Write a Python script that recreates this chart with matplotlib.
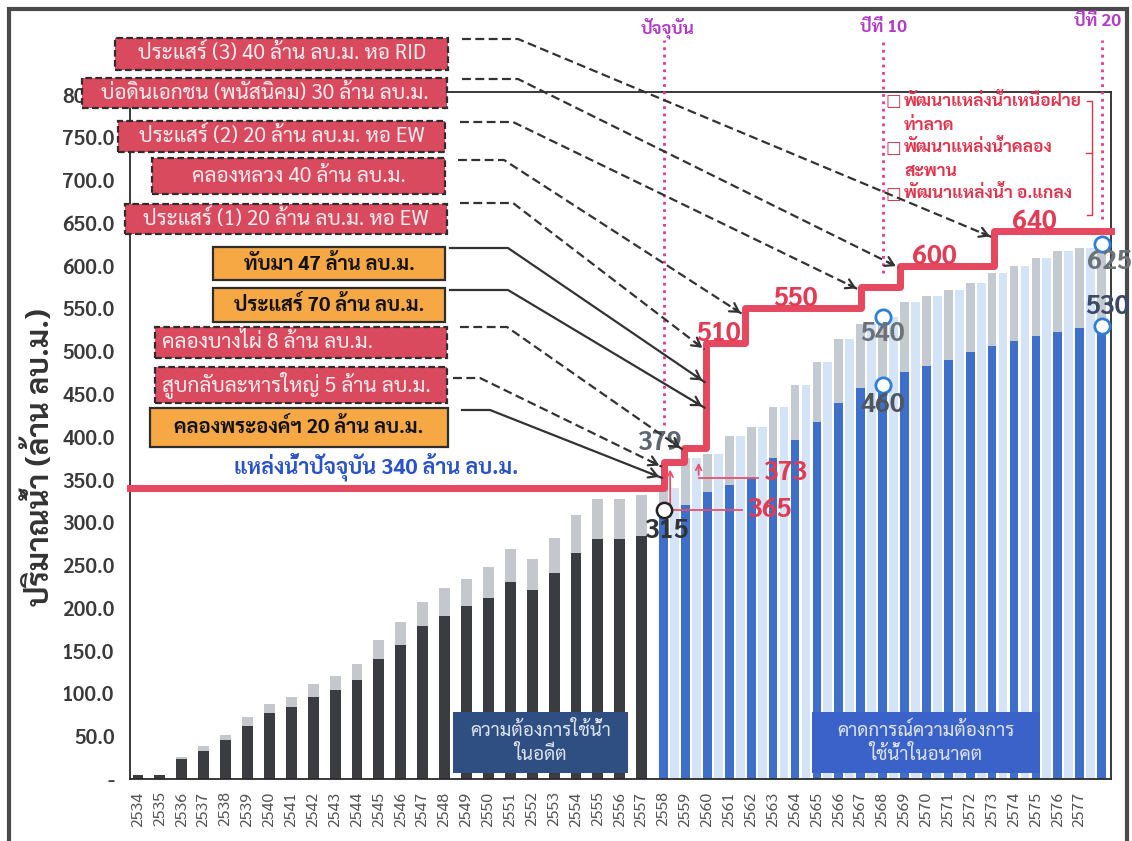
import matplotlib
matplotlib.use("Agg")
import matplotlib.pyplot as plt
from matplotlib import font_manager
from matplotlib.patches import Rectangle, FancyArrowPatch
from matplotlib.lines import Line2D
import numpy as np


# pick a Thai family that also ships a real bold face
def thai_family():
    prefs = ['Sarabun', 'Noto Sans Thai', 'IBM Plex Sans Thai', 'Bai Jamjuree']
    for p in prefs:
        ws = [f.weight for f in font_manager.fontManager.ttflist if f.name == p]
        ws = [w for w in ws if isinstance(w, int)]
        if ws and max(ws) >= 700:
            return p
    return 'Noto Sans Thai'


THAI = thai_family()
plt.rcParams['font.family'] = [THAI, 'DejaVu Sans']

# ---------------- data ----------------
past_years = list(range(2534, 2558))
past_use = [5, 5, 23, 33, 46, 62, 77, 84, 96, 104, 116, 140, 157, 179,
            191, 202, 212, 230, 221, 241, 264, 281, 280, 284]
past_total = [5, 5, 26, 38, 51, 73, 88, 96, 111, 120, 135, 162, 183, 207,
              223, 234, 248, 269, 257, 282, 308, 327, 327, 332]

future_years = list(range(2558, 2579))
future_use = [315, 320, 335, 344, 352, 375, 396, 417, 440, 457, 460,
              476, 483, 490, 499, 506, 512, 518, 523, 527, 530]
future_total = [340, 375, 380, 401, 412, 435, 460, 487, 514, 532, 540,
                557, 564, 572, 580, 592, 600, 609, 617, 621, 625]

# water supply step line (x edges in bar units, levels in million m3)
step_edges = [-0.365, 24.0, 24.95, 25.95, 27.7, 33.0, 34.8, 39.1, 44.43]
supply_levels = [340, 370, 387, 510, 550, 575, 600, 640]
level_labels = ['510', '550', '600', '640']

milestone_x = [24, 34, 44]
milestone_bottom = [414, 592, 654]
milestone_names = ['ปัจจุบัน', 'ปีที่ 10', 'ปีที่ 20']

# project boxes: text, kind (red = planned, orange = existing), box in pixels
projects = [
    ('ประแสร์ (3) 40 ล้าน ลบ.ม. หอ RID', 'red', (115, 38, 448, 70)),
    ('บ่อดินเอกชน (พนัสนิคม) 30 ล้าน ลบ.ม.', 'red', (82, 78, 447, 108)),
    ('ประแสร์ (2) 20 ล้าน ลบ.ม. หอ EW', 'red', (118, 121, 445, 152)),
    ('คลองหลวง 40 ล้าน ลบ.ม.', 'red', (152, 158, 445, 194)),
    ('ประแสร์ (1) 20 ล้าน ลบ.ม. หอ EW', 'red', (125, 204, 447, 234)),
    ('ทับมา 47 ล้าน ลบ.ม.', 'orange', (213, 247, 445, 280)),
    ('ประแสร์ 70 ล้าน ลบ.ม.', 'orange', (213, 288, 445, 322)),
    ('คลองบางไผ่ 8 ล้าน ลบ.ม.', 'red', (155, 327, 447, 358)),
    ('สูบกลับละหารใหญ่ 5 ล้าน ลบ.ม.', 'red', (155, 367, 447, 403)),
    ('คลองพระองค์ฯ 20 ล้าน ลบ.ม.', 'orange', (150, 408, 448, 447)),
]
# arrow start (pixels), bend x (pixels), target (step index, value)
arrows = [
    ((462, 39), 518, (7, 633)),
    ((462, 79), 518, (6, 598)),
    ((460, 122), 513, (5, 572)),
    ((458, 160), 504, (4, 543)),
    ((460, 203), 513, (3, 502)),
    ((450, 248), 508, (3, 464)),
    ((450, 290), 508, (3, 434)),
    ((460, 327), 507, (2, 385)),
    ((453, 378), 480, (1, 365)),
    ((462, 410), 490, (1, 352)),
]

plans = ['พัฒนาแหล่งน้ำเหนือฝาย', 'ท่าลาด', 'พัฒนาแหล่งน้ำคลอง', 'สะพาน', 'พัฒนาแหล่งน้ำ อ.แกลง']

W, H = 1132, 841


def fx(x):
    return x / W


def fy(y):
    return 1 - y / H


fig = plt.figure(figsize=(W / 100, H / 100), dpi=100)
ax = fig.add_axes([fx(130), fy(779), fx(1111) - fx(130), fy(92) - fy(779)])

xp = np.array(past_years) - 2534
xf = np.array(future_years) - 2534
past_use = np.array(past_use)
past_total = np.array(past_total)
future_use = np.array(future_use)
future_total = np.array(future_total)

# light stripes between the forecast bars
ax.bar(xf[:-1] + 0.5, future_total[:-1], width=0.4, color='#d4e4f6', zorder=1)

ax.bar(xp, past_use, width=0.5, color='#3a3c3f', zorder=2)
ax.bar(xp, past_total - past_use, bottom=past_use, width=0.5, color='#c4c8cd', zorder=2)
ax.bar(xf, future_use, width=0.4, color='#3e6fca', zorder=2)
ax.bar(xf, future_total - future_use, bottom=future_use, width=0.4, color='#c4cad1', zorder=2)

ax.set_xlim(step_edges[0], step_edges[-1])
ax.set_ylim(0, 803)

years = past_years + future_years
ax.set_xticks(range(44))
ax.set_xticklabels([str(y) for y in years[:44]], rotation=90, fontsize=11.5, color='#555555')
yt = np.arange(0, 801, 50)
ax.set_yticks(yt)
ax.set_yticklabels(['-'] + ['%.1f' % v for v in yt[1:]], fontsize=15,
                   fontweight='semibold', color='#3a3a3a')
ax.tick_params(axis='x', length=0, pad=9)
ax.tick_params(axis='y', length=0, pad=11)
for s in ax.spines.values():
    s.set_color('#2a2a2a')
    s.set_linewidth(1.3)

# supply step line
ax.plot(step_edges, supply_levels + [supply_levels[-1]], drawstyle='steps-post',
        color='#e5485f', lw=5, zorder=5, clip_on=False)
for lab, i, dx in zip(level_labels, [3, 4, 6, 7], [12, 51, 34, 40]):
    ax.annotate(lab, (step_edges[i], supply_levels[i]), xytext=(dx, -4),
                textcoords='offset pixels', ha='center', va='bottom',
                fontsize=19, fontweight='bold', color='#e23c55', zorder=6)

# milestone dotted lines
for x, yb in zip(milestone_x, milestone_bottom):
    ax.plot([x, x], [yb, 864], ls=':', color='#e0399a', lw=2, clip_on=False, zorder=4)
for name, (px, py) in zip(milestone_names, [(668, 28), (883, 28), (1098, 22)]):
    fig.text(fx(px), fy(py), name, ha='center', va='center', fontsize=12.5,
             fontweight='bold', color='#b23ac6')

# value markers
ax.plot([34, 34, 44, 44], [540, 460, 625, 530], 'o', mfc='white', mec='#2f7fd8',
        ms=11, mew=2, zorder=7, clip_on=False)
ax.plot([24], [315], 'o', mfc='white', mec='#222222', ms=11, mew=1.8, zorder=7)

marks = [('540', 34, 540, 0, -17, '#6b7278'),
         ('460', 34, 460, 0, -20, '#50565d'),
         ('625', 44, 625, 8, -18, '#6b7278'),
         ('530', 44, 530, 6, 19, '#3b4966'),
         ('315', 24, 315, 4, -21, '#333333'),
         ('379', 24.0, 370, -3, 19, '#5d6670')]
for lab, x, y, dx, dy, c in marks:
    ax.annotate(lab, (x, y), xytext=(dx, dy), textcoords='offset pixels',
                ha='center', va='center', fontsize=19, fontweight='bold',
                color=c, zorder=8, annotation_clip=False)

# pink callouts for 365 / 373
pink = '#e8506a'
for x0, ylo, yhi, x1, lab, dy in [(24.3, 315, 365, 27.6, '365', 0),
                                  (25.6, 352, 373, 28.3, '373', 5)]:
    ax.plot([x0, x1], [ylo, ylo], color=pink, lw=1.3, zorder=6)
    ax.annotate('', xy=(x0, yhi), xytext=(x0, ylo),
                arrowprops=dict(arrowstyle='->', color=pink, lw=1.3), zorder=6)
    ax.annotate(lab, (x1, ylo), xytext=(28, dy),
                textcoords='offset pixels', ha='center', va='center',
                fontsize=19, fontweight='bold', color='#e23c55', zorder=8)

# project boxes
for text, kind, (x0, y0, x1, y1) in projects:
    if kind == 'red':
        rect = Rectangle((fx(x0), fy(y1)), fx(x1) - fx(x0), fy(y0) - fy(y1),
                         transform=fig.transFigure, facecolor='#d94a5f',
                         edgecolor='#2d2d2d', lw=1.6, ls=(0, (3, 1.5)), zorder=10)
        tcol, tw, fs = '#fdeef0', 'normal', 15
    else:
        rect = Rectangle((fx(x0), fy(y1)), fx(x1) - fx(x0), fy(y0) - fy(y1),
                         transform=fig.transFigure, facecolor='#f5a843',
                         edgecolor='#2d2d2d', lw=1.6, zorder=10)
        tcol, tw, fs = '#111111', 'bold', 14.5
    fig.add_artist(rect)
    if text.startswith(('คลองบางไผ่', 'สูบกลับ')):
        fig.text(fx(x0 + 7), fy((y0 + y1) / 2), text, ha='left', va='center',
                 fontsize=fs, color=tcol, fontweight=tw, zorder=11)
    else:
        fig.text(fx((x0 + x1) / 2), fy((y0 + y1) / 2), text, ha='center', va='center',
                 fontsize=fs, color=tcol, fontweight=tw, zorder=11)

fig.text(fx(376), fy(467), 'แหล่งน้ำปัจจุบัน 340 ล้าน ลบ.ม.', ha='center', va='center',
         fontsize=15.5, fontweight='bold', color='#2a52c9', zorder=11)

# leader arrows from the project boxes to the supply steps
for ((sx, sy), bx, (si, val)), (_, kind, _) in zip(arrows, projects):
    tx, ty = ax.transData.transform((step_edges[si] - 0.08, val))
    ex, ey = tx / W, ty / H
    ls = (0, (4, 2)) if kind == 'red' else '-'
    fig.add_artist(Line2D([fx(sx), fx(bx), ex], [fy(sy), fy(sy), ey],
                          transform=fig.transFigure, color='#333333', lw=1.6,
                          ls=ls, zorder=12))
    # arrow head
    dx, dy = ex - fx(bx), ey - fy(sy)
    back = 14 / np.hypot(dx * W, dy * H)
    fig.add_artist(FancyArrowPatch(
        (ex - dx * back, ey - dy * back), (ex, ey), transform=fig.transFigure,
        arrowstyle='->,head_length=6,head_width=3.5', color='#333333', lw=1.6,
        zorder=12))

# planned development list (top right)
for i, line in enumerate(plans):
    y = [101, 126, 148, 171, 194][i]
    if i in (0, 2, 4):
        fig.text(fx(893), fy(y), '□', ha='center', va='center', fontsize=12,
                 color='#d8324a', family='DejaVu Sans', zorder=11)
    fig.text(fx(904), fy(y), line, ha='left', va='center', fontsize=12.5,
             fontweight='bold', color='#e0344d', zorder=11)
fig.add_artist(Line2D([fx(1087), fx(1092), fx(1092), fx(1087)],
                      [fy(101), fy(101), fy(215), fy(215)],
                      transform=fig.transFigure, color='#e0344d', lw=1))
fig.add_artist(Line2D([fx(1086), fx(1092)], [fy(153), fy(153)],
                      transform=fig.transFigure, color='#e0344d', lw=1))

# period boxes at the bottom
for (x0, y0, x1, y1), txt, fc in [((453, 712, 628, 773), 'ความต้องการใช้น้ำ\nในอดีต', '#2f4e82'),
                                  ((812, 712, 1040, 773), 'คาดการณ์ความต้องการ\nใช้น้ำในอนาคต', '#3b62c8')]:
    fig.add_artist(Rectangle((fx(x0), fy(y1)), fx(x1) - fx(x0), fy(y0) - fy(y1),
                             transform=fig.transFigure, facecolor=fc,
                             edgecolor='none', zorder=9))
    fig.text(fx((x0 + x1) / 2), fy((y0 + y1) / 2), txt, ha='center', va='center',
             fontsize=13.5, color='#dfe6f2', linespacing=1.35, zorder=10)

fig.text(fx(40), fy(457), 'ปริมาณน้ำ (ล้าน ลบ.ม.)', rotation=90, ha='center', va='center',
         fontsize=22, fontweight='bold', color='#333333')

# outer frame
fig.add_artist(Rectangle((fx(9), fy(860)), fx(1127) - fx(9), fy(9) - fy(860),
                         transform=fig.transFigure, fill=False,
                         edgecolor='#4a4a4a', lw=3, zorder=0))

fig.savefig('out.png', dpi=100)
